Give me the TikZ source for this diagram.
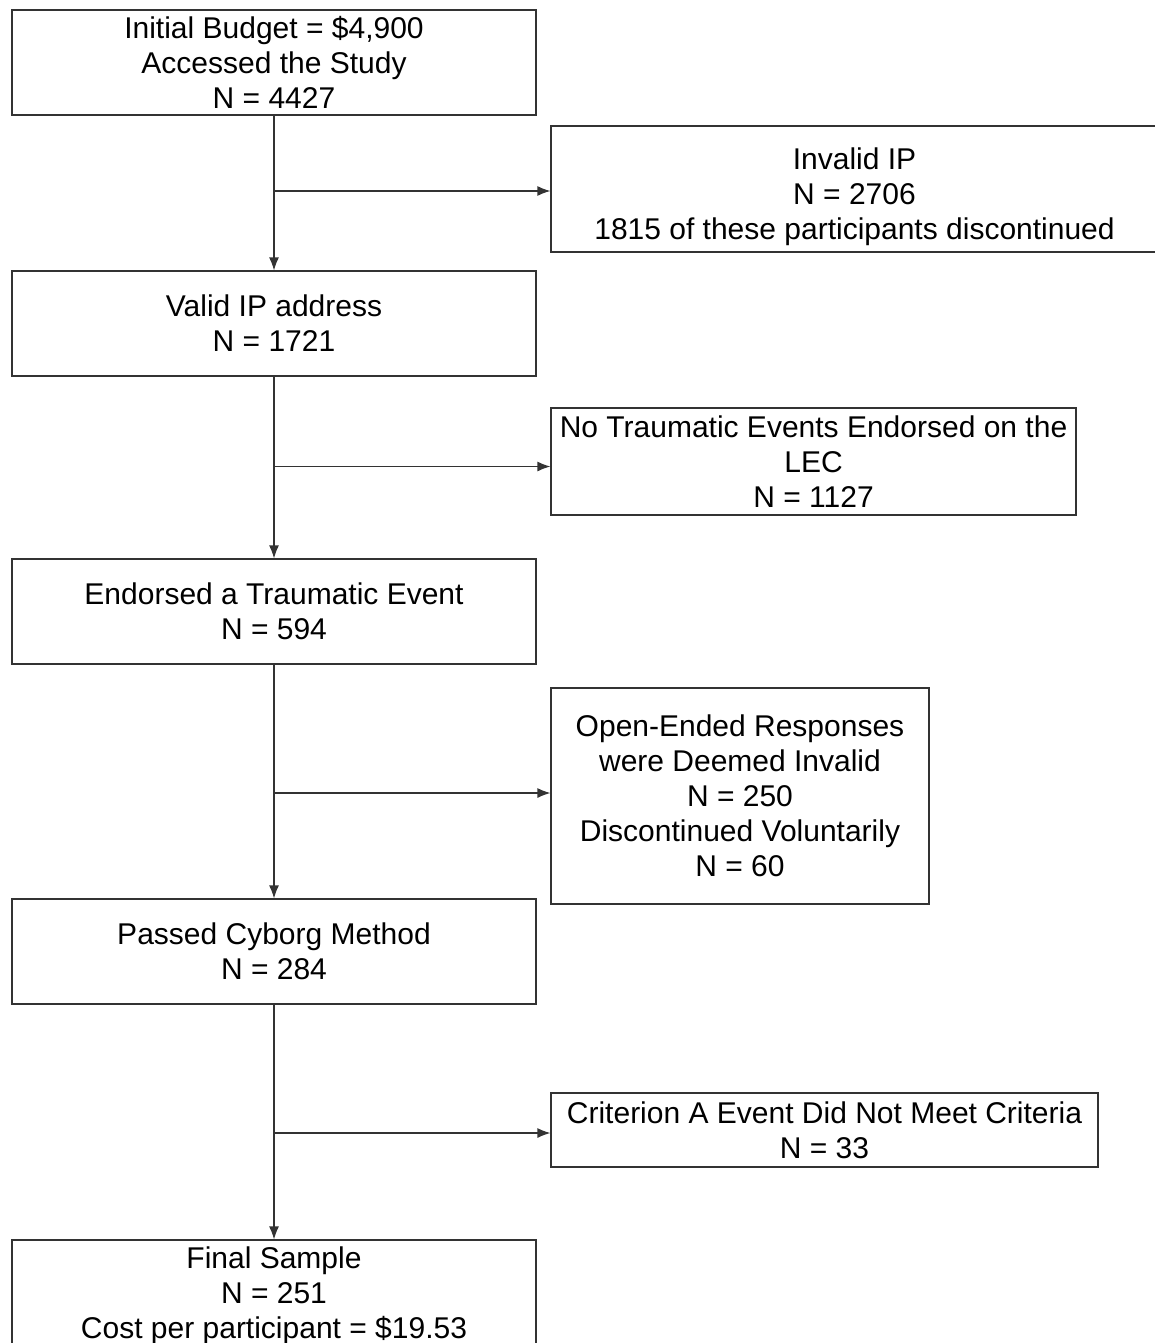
\documentclass[tikz,border=0pt]{standalone}
\usepackage{fontspec}
\setmainfont{Liberation Sans}
\usetikzlibrary{arrows.meta}
\begin{document}
\begin{tikzpicture}[x=1pt,y=-1pt,>={Latex[length=13pt,width=10pt]},
    box/.style={draw=black!80, line width=1.2pt, align=center, inner sep=0pt,
      font=\fontsize{30}{35}\selectfont},
    main/.style={box, minimum width=524pt, minimum height=105pt},
    side/.style={box}]
    \useasboundingbox (0,0) rectangle (1155,1343);
    % main column
    \node[main] (budget) at (274,62.5) {Initial Budget = \$4,900\\Accessed the Study\\N = 4427};
    \node[main] (valid) at (274,323.5) {Valid IP address\\N = 1721};
    \node[main] (endorsed) at (274,611.5) {Endorsed a Traumatic Event\\N = 594};
    \node[main] (cyborg) at (274,951.5) {Passed Cyborg Method\\N = 284};
    \node[main, minimum height=106pt] (final) at (274,1293) {\rule{0pt}{28pt}Final Sample\\N = 251\\Cost per participant = \$19.53};
    % exclusions
    \node[side, minimum width=607pt, minimum height=126pt] (invalid) at (854.5,189) {\rule{0pt}{38pt}Invalid IP\\N = 2706\\1815 of these participants discontinued};
    \node[side, minimum width=525pt, minimum height=107pt] (notrauma) at (813.5,461.5) {No Traumatic Events Endorsed on the\\LEC\\N = 1127};
    \node[side, minimum width=378pt, minimum height=216pt] (openended) at (740,796) {Open-Ended Responses\\were Deemed Invalid\\N = 250\\Discontinued Voluntarily\\N = 60};
    \node[side, minimum width=547pt, minimum height=74pt] (critA) at (824.5,1130) {Criterion A Event Did Not Meet Criteria\\N = 33};
    % arrows
    \foreach \a/\b in {budget/valid, valid/endorsed, endorsed/cyborg, cyborg/final}
    \draw[->, line width=1.2pt, black!80] (\a.south) -- (\b.north);
    \foreach \a/\c/\d in {budget/invalid/-2, valid/notrauma/-5, endorsed/openended/3, cyborg/critA/-3}
    \draw[->, line width=1.2pt, black!80] ([yshift=\d pt]\a.south |- \c.west) -- ([yshift=\d pt]\c.west);
\end{tikzpicture}
\end{document}
